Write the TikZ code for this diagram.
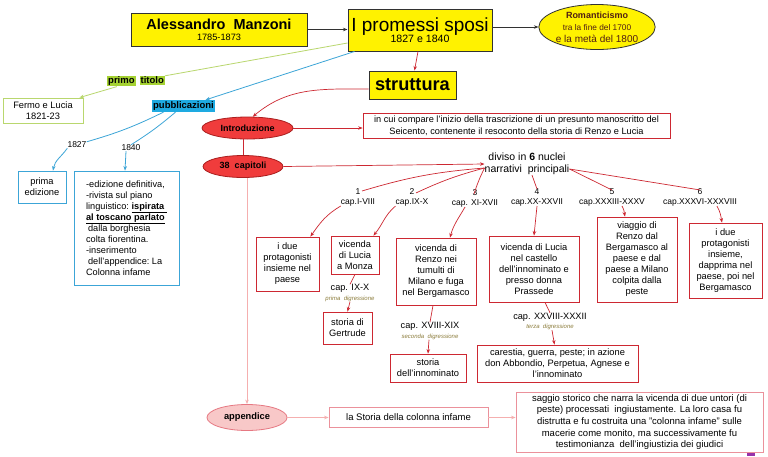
\documentclass[tikz,border=0pt]{standalone}
\usepackage{fontspec}
\setmainfont{Liberation Sans}
\usetikzlibrary{shapes.geometric,arrows.meta}
\definecolor{ybord}{RGB}{50,50,50}
\definecolor{gline}{RGB}{185,215,110}
\definecolor{gfill}{RGB}{165,210,50}
\definecolor{bline}{RGB}{60,165,215}
\definecolor{bfill}{RGB}{30,170,225}
\definecolor{rline}{RGB}{205,40,50}
\definecolor{rfill}{RGB}{240,60,60}
\definecolor{rdark}{RGB}{170,30,30}
\definecolor{pline}{RGB}{245,175,175}
\definecolor{pbord}{RGB}{235,145,155}
\definecolor{pfill}{RGB}{248,200,200}
\definecolor{pdark}{RGB}{230,120,130}
\definecolor{olivetxt}{RGB}{140,125,60}
\definecolor{romtxt}{RGB}{80,30,20}
\definecolor{purplemark}{RGB}{150,50,170}
\newcommand\fsz[2]{\fontsize{#1}{#2}\selectfont}
\begin{document}
\begin{tikzpicture}[x=1pt,y=-1pt,
  every node/.style={inner sep=0pt, align=center},
  arr/.style={-{Stealth[length=4.5pt,width=3.5pt]}},
  ybox/.style={draw=ybord, fill=yellow, line width=1pt},
  rbox/.style={draw=rline, fill=white, line width=0.8pt, font=\fsz{9.3}{11}},
  bbox/.style={draw=bline, fill=white, line width=0.8pt},
  lab/.style={font=\fsz{8.5}{10}},
  dig/.style={font=\fsz{9.2}{9.5}},
  rl/.style={draw=rline, line width=0.7pt},
  bl/.style={draw=bline, line width=0.8pt},
  gl/.style={draw=gline, line width=0.8pt},
  pl/.style={draw=pline, line width=0.8pt},
  redell/.style={ellipse, draw=rdark, fill=rfill, line width=0.8pt, font=\fsz{9}{10}\bfseries}
]
\fill[white] (0,0) rectangle (768,456);
\useasboundingbox (0,0) rectangle (768,456);

% top row
\node[ybox, minimum width=176pt, minimum height=33pt] (man) at (219,29.5)
  {\fsz{14.5}{15}\textbf{Alessandro\ \ Manzoni}\\[-1pt]\fsz{9.2}{11}1785-1873};
\node[ybox, minimum width=144pt, minimum height=42pt] (pro) at (420,30)
  {\fsz{19}{19}I promessi sposi\\[-1pt]\fsz{10.6}{12}1827 e 1840};
\node[ellipse, draw=ybord, fill=yellow, line width=0.8pt, minimum width=112pt, minimum height=45pt, text=romtxt] (rom) at (597,27)
  {\fsz{9}{10}\textbf{Romanticismo}\\\fsz{8.3}{10}tra la fine del 1700\\e la metà del 1800};
\node[ybox, minimum width=87pt, minimum height=28pt] (st) at (412.5,85) {\fsz{18.2}{20}\textbf{struttura}};

\draw[draw=ybord, line width=0.7pt, arr] (man.east) -- (man.east -| pro.west);
\draw[draw=ybord, line width=0.7pt, arr] (pro.east |- rom.west) -- (rom.west);
\draw[rl, arr] ([xshift=-2pt]pro.south) -- ([xshift=2pt]st.north);

% left side
\node[draw=gline, line width=0.8pt, minimum width=80pt, minimum height=25pt, font=\fsz{9.3}{11}] (fer) at (43,110.5) {Fermo e Lucia\\1821-23};
\node[font=\fsz{9.5}{11}] (pt) at (136,81) {\setlength\fboxsep{1pt}\colorbox{gfill}{\textbf{primo}}\hspace{4pt}\colorbox{gfill}{\textbf{titolo}}};
\node[fill=bfill, inner xsep=1.5pt, inner ysep=1.5pt, font=\fsz{9.5}{11}\bfseries] (pb) at (183.5,106) {pubblicazioni};

\draw[gl] ([yshift=-13pt]pro.west) -- (pt);
\draw[gl, arr] (pt) -- ([xshift=-4pt]fer.north east);
\draw[bl, arr] ([xshift=7pt]pro.south west) -- ([xshift=-10pt]pb.north east);

\node[font=\fsz{8.5}{10}] (y27) at (77,145) {1827};
\node[font=\fsz{8.5}{10}] (y40) at (131,148) {1840};
\node[bbox, minimum width=48pt, minimum height=32pt, font=\fsz{9.3}{10.7}] (pe) at (42,187) {prima\\edizione};
\node[bbox, minimum width=105pt, minimum height=114pt, font=\fsz{9.2}{11}, align=left] (ed) at (126.5,228)
  {-edizione definitiva,\\-rivista sul piano\\linguistico:\ \underline{\textbf{ispirata\ }}\\\underline{\textbf{al toscano parlato}}\\\hspace{2pt}dalla borghesia\\colta fiorentina.\\-inserimento\\\hspace{2pt}dell'appendice:\ La\\Colonna infame};

\draw[bl] ([xshift=-20pt]pb.south) to[bend left=5] (y27.north east);
\draw[bl, arr] (y27.south west) to[out=235,in=80] ([xshift=11pt]pe.north);
\draw[bl] ([xshift=-8pt]pb.south) to[bend left=4] (y40.north);
\draw[bl, arr] ([xshift=-5pt]y40.south) -- ([xshift=-1.5pt]ed.north);

% structure
\node[redell, minimum width=91pt, minimum height=22pt] (in) at (247.5,128) {Introduzione};
\draw[rl, arr] ([yshift=-4pt]st.west) to[out=180,in=40] (in.65);
\node[draw=rline, line width=0.7pt, minimum width=307pt, minimum height=25pt, font=\fsz{9.2}{12}] (it) at (516.5,125.5)
  {in cui compare l'inizio della trascrizione di un presunto manoscritto del\\Seicento, contenente il resoconto della storia di Renzo e Lucia};
\draw[rl, arr] (in.east) -- (in.east -| it.west);

\node[redell, minimum width=80pt, minimum height=22pt] (cp) at (243,166.5) {38\ \ capitoli};
\draw[rl] (in.south -| cp.north) -- (cp.north);

\node[font=\fsz{10.5}{12}] (dv) at (527,164) {diviso in \textbf{6} nuclei\\narrativi\ \ principali};
\draw[rl, arr] (cp.east) -- (dv.west);

\node[lab] (c1) at (358,197) {1\\cap.I-VIII};
\node[lab] (c2) at (412,197) {2\\cap.IX-X};
\node[lab] (c3) at (475,198) {3\\cap. XI-XVII};
\node[lab] (c4) at (537,197) {4\\cap.XX-XXVII};
\node[lab] (c5) at (612,197) {5\\cap.XXXIII-XXXV};
\node[lab] (c6) at (700,197) {6\\cap.XXXVI-XXXVIII};

\coordinate (dvL) at ([yshift=-4pt]dv.west);
\coordinate (dvR) at ([yshift=-5pt]dv.east);
\draw[rl] (dvL) to[bend right=6] ([xshift=4pt,yshift=-3pt]c1.north);
\draw[rl] (dvL) to[bend right=5] ([xshift=4pt,yshift=-5pt]c2.north);
\draw[rl] (dvL) to[bend right=4] ([xshift=-1pt,yshift=-5pt]c3.north);
\draw[rl] ([xshift=5pt]dv.south) -- ([yshift=-1pt]c4.north);
\draw[rl] (dvR) -- ([yshift=-2pt]c5.north);
\draw[rl] (dvR) -- ([yshift=-2pt]c6.north);

\node[rbox, minimum width=63pt, minimum height=54pt] (b1) at (287.5,264) {i due\\protagonisti\\insieme nel\\paese};
\node[rbox, minimum width=48pt, minimum height=38pt] (b2) at (355,255) {vicenda\\di Lucia\\a Monza};
\node[rbox, minimum width=80pt, minimum height=67pt] (b3) at (436,271.5) {vicenda di\\Renzo nei\\tumulti di\\Milano e fuga\\nel Bergamasco};
\node[rbox, minimum width=90pt, minimum height=66pt] (b4) at (534,269) {vicenda di Lucia\\nel castello\\dell'innominato e\\presso donna\\Prassede};
\node[rbox, minimum width=80pt, minimum height=85pt] (b5) at (637,259.5) {viaggio di\\Renzo dal\\Bergamasco al\\paese e dal\\paese a Milano\\colpita dalla\\peste};
\node[rbox, minimum width=73pt, minimum height=75pt] (b6) at (725.5,260.5) {i due\\protagonisti\\insieme,\\dapprima nel\\paese, poi nel\\Bergamasco};

\draw[rl, arr] (c1.south west) to[out=210,in=55] ([xshift=-9pt]b1.north east);
\draw[rl, arr] (c2.south west) to[out=220,in=50] ([xshift=-6pt]b2.north east);
\draw[rl, arr] ([xshift=-10pt]c3.south) to[out=240,in=75] ([xshift=14pt]b3.north);
\draw[rl, arr] (c4.south) -- (b4.north);
\draw[rl, arr] ([xshift=10pt]c5.south) to[out=-60,in=100] ([xshift=-12pt]b5.north);
\draw[rl, arr] ([xshift=17pt]c6.south) to[out=-60,in=100] ([xshift=-3.5pt]b6.north);

% digressions
\node[dig] (d1) at (350,293) {cap. IX-X\\{\fsz{6}{7}\itshape\color{olivetxt}prima\ \ digressione}};
\node[rbox, minimum width=49pt, minimum height=32pt] (g) at (347.5,328) {storia di\\Gertrude};
\draw[rl] (b2.south) -- (d1.north);
\draw[rl, arr] (d1.south) -- (g.north);

\node[dig] (d2) at (430,331) {cap. XVIII-XIX\\{\fsz{6}{7}\itshape\color{olivetxt}seconda\ \ digressione}};
\node[rbox, minimum width=76pt, minimum height=28pt] (inn) at (428,368) {storia\\dell'innominato};
\draw[rl] ([xshift=-3pt]b3.south) -- (d2.north);
\draw[rl, arr] ([xshift=-1pt]d2.south) -- (inn.north);

\node[dig] (d3) at (550,321.5) {cap. XXVIII-XXXII\\{\fsz{6}{7}\itshape\color{olivetxt}terza\ \ digressione}};
\node[rbox, minimum width=161pt, minimum height=37pt] (car) at (557.5,363.5) {carestia, guerra, peste; in azione\\don Abbondio, Perpetua, Agnese e\\l'innominato};
\draw[rl] ([xshift=11pt]b4.south) -- (d3.north);
\draw[rl, arr] ([xshift=2pt]d3.south) -- ([xshift=-3pt]car.north);

% appendix
\node[ellipse, draw=pdark, fill=pfill, line width=0.8pt, minimum width=80pt, minimum height=26pt, font=\fsz{9.3}{10}\bfseries] (ap) at (247,417.5) {appendice};
\draw[pl, arr] (cp.south -| ap.north) -- (ap.north);
\node[draw=pbord, line width=0.8pt, minimum width=159pt, minimum height=20pt, font=\fsz{9.5}{11}] (col) at (408.5,417.5) {la Storia della colonna infame};
\draw[pl, arr] (ap.east) -- (col.west);
\node[draw=pbord, line width=0.8pt, minimum width=247pt, minimum height=60pt, font=\fsz{9.5}{11.7}] (sg) at (639.5,422)
  {saggio storico che narra la vicenda di due untori (di\\peste) processati\ \ ingiustamente. La loro casa fu\\distrutta e fu costruita una "colonna infame" sulle\\macerie come monito, ma successivamente fu\\testimonianza\ \ dell'ingiustizia dei giudici};
\draw[pl, arr] (col.east) -- (col.east -| sg.west);

\fill[purplemark] (747,453) rectangle (755,456);
\end{tikzpicture}
\end{document}
